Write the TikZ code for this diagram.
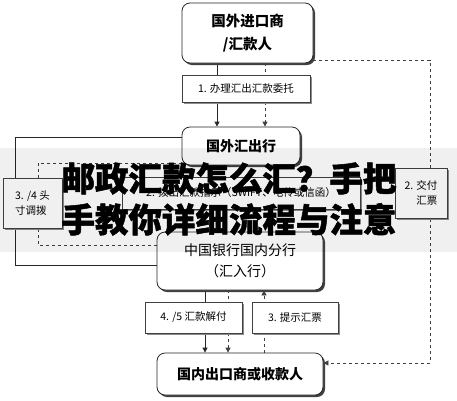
\documentclass[tikz,border=0pt]{standalone}
\usepackage{fontspec}
\newfontfamily\cjk{Noto Sans CJK SC}
\usetikzlibrary{arrows.meta, shadows, backgrounds}

\tikzstyle{party} = [rectangle, rounded corners = 8pt, inner sep = 0pt,
	text centered, align = center, thick, draw = black!85, fill = white,
	drop shadow = {shadow xshift = 2pt, shadow yshift = -2pt, fill = black!75, opacity = 1}]
\tikzstyle{stepbox} = [rectangle, inner sep = 0pt, draw = black!75, fill = white,
	font = \cjk\fontsize{10.5}{15}\selectfont,
	drop shadow = {shadow xshift = 2pt, shadow yshift = -2pt, fill = black!45, opacity = 1}]
\tikzstyle{flow} = [thick, black!85]
\tikzstyle{draft} = [thick, dashed, black!75]
\tikzstyle{arrow} = [-{Triangle[length = 5pt, width = 5pt]}]

\begin{document}
\begin{tikzpicture}[x = 1pt, y = -1pt]

\useasboundingbox (0,0) rectangle (457,400);

% parties and banks
\node (imp) [party, minimum width = 131pt, minimum height = 60pt,
	font = \cjk\bfseries\fontsize{14.5}{23}\selectfont] at (247.5,33)
	{国外进口商\\/汇款人};
\node (gw) [party, minimum width = 118pt, minimum height = 38pt,
	font = \cjk\bfseries\fontsize{14}{20}\selectfont] at (241,146) {国外汇出行};
\node (bank) [party, minimum width = 166pt, minimum height = 58pt,
	font = \cjk\fontsize{14}{21}\selectfont] at (240,261) {中国银行国内分行\\（汇入行）};
\node (exp) [party, minimum width = 166pt, minimum height = 42pt,
	font = \cjk\bfseries\fontsize{14}{20}\selectfont] at (240,374) {国内出口商或收款人};

% steps
\node (s1) [stepbox, minimum width = 128pt, minimum height = 27pt] at (246,88.5)
	{1. 办理汇出汇款委托};
\node (s2) [stepbox, minimum width = 238pt, minimum height = 32pt] at (241,193)
	{2. 拨出汇款指示（SWIFT、电传或信函）};
\node (s2b) [stepbox, minimum width = 52pt, minimum height = 50pt, align = right] at (421,193)
	{2. 交付\\汇票};
\node (s34) [stepbox, minimum width = 59pt, minimum height = 50pt, align = left] at (32.5,203)
	{3. /4 头\\寸调拨};
\node (s45) [stepbox, minimum width = 97pt, minimum height = 31pt] at (193.5,317.5)
	{4. /5 汇款解付};
\node (s3) [stepbox, minimum width = 86pt, minimum height = 31pt] at (295,317.5)
	{3. 提示汇票};

\coordinate (xa) at (217,0);
\coordinate (xb) at (265,0);
\coordinate (xc) at (205,0);
\coordinate (xd) at (228,0);
\coordinate (xe) at (264,0);
\coordinate (xl) at (15,0);
\coordinate (xm) at (38,0);
\coordinate (xr) at (430,0);
\coordinate (pa) at ([yshift = 9pt]gw.west);
\coordinate (pb) at ([yshift = -4pt]bank.west);
\coordinate (pc) at ([yshift = -17pt]gw.west);
\coordinate (pd) at ([yshift = 16pt]bank.west);
\coordinate (pe) at ([yshift = -27pt]imp.east);
\coordinate (pf) at ([yshift = 11pt]exp.east);

\begin{scope}[on background layer]
\draw [flow] (imp.south -| xa) -- (s1.north -| xa);
\draw [draft] (imp.south -| xb) -- (s1.north -| xb);
\draw [flow, arrow] (s1.south -| xa) -- (gw.north -| xa);
\draw [draft, arrow] (s1.south -| xb) -- (gw.north -| xb);

\draw [flow] (pa) -- (pa -| xl) -- (pb -| xl) -- (pb);
\draw [draft] (pc) -- (pc -| xm) -- (pd -| xm) -- (pd);

\draw [draft, arrow] (pe) -- (pe -| xr) -- (pf -| xr) -- (pf);

\draw [flow] (bank.south -| xc) -- (s45.north -| xc);
\draw [draft] (bank.south -| xd) -- (s45.north -| xd);
\draw [flow, arrow] (s45.south -| xc) -- (exp.north -| xc);
\draw [draft, arrow] (s45.south -| xd) -- (exp.north -| xd);
\draw [draft, arrow] (exp.north -| xe) -- (bank.south -| xe);
\end{scope}

% title band over the chart
\fill [black, opacity = 0.06] (0,148) rectangle (457,252);
\node (title) [inner sep = 0pt, align = center,
	font = \cjk\bfseries\addfontfeatures{FakeBold = 1.5}\fontsize{33.5}{41}\selectfont] at (229,199)
	{邮政汇款怎么汇？手把\\手教你详细流程与注意};

\end{tikzpicture}
\end{document}
